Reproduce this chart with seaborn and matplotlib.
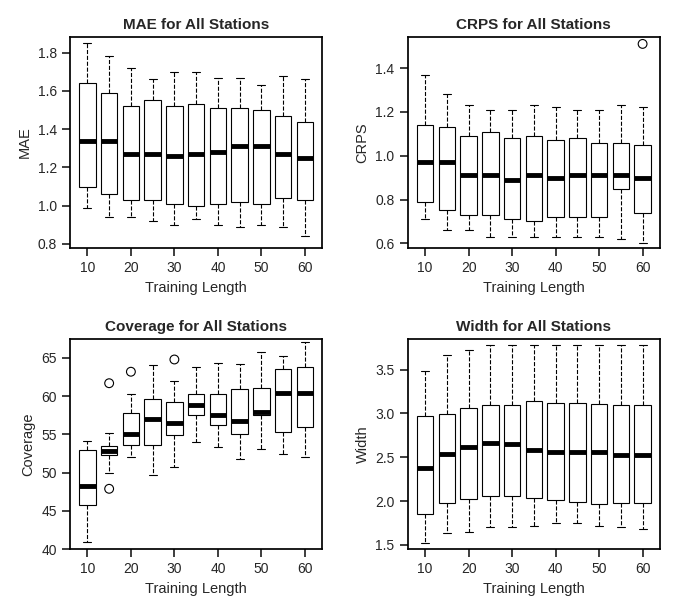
import pandas as pd
import numpy as np
import matplotlib.pyplot as plt
import seaborn as sns

sns.set_theme(style="ticks")
plt.rcParams['font.family'] = ['Liberation Sans', 'DejaVu Sans']

TRAIN_LEN = [10, 15, 20, 25, 30, 35, 40, 45, 50, 55, 60]

# per box: lower whisker, q1, median, q3, upper whisker
mae_stats = [
    [0.99, 1.10, 1.34, 1.64, 1.85], [0.94, 1.06, 1.34, 1.59, 1.78],
    [0.94, 1.03, 1.27, 1.52, 1.72], [0.92, 1.03, 1.27, 1.55, 1.66],
    [0.90, 1.01, 1.26, 1.52, 1.70], [0.93, 1.00, 1.27, 1.53, 1.70],
    [0.90, 1.01, 1.28, 1.51, 1.67], [0.89, 1.02, 1.31, 1.51, 1.67],
    [0.90, 1.01, 1.31, 1.50, 1.63], [0.89, 1.04, 1.27, 1.47, 1.68],
    [0.84, 1.03, 1.25, 1.44, 1.66],
]
crps_stats = [
    [0.71, 0.79, 0.97, 1.14, 1.37], [0.66, 0.75, 0.97, 1.13, 1.28],
    [0.66, 0.73, 0.91, 1.09, 1.23], [0.63, 0.73, 0.91, 1.11, 1.21],
    [0.63, 0.71, 0.89, 1.08, 1.21], [0.63, 0.70, 0.91, 1.09, 1.23],
    [0.63, 0.72, 0.90, 1.07, 1.22], [0.63, 0.72, 0.91, 1.08, 1.21],
    [0.63, 0.72, 0.91, 1.06, 1.21], [0.62, 0.85, 0.91, 1.06, 1.23],
    [0.60, 0.74, 0.90, 1.05, 1.22],
]
coverage_stats = [
    [41.0, 45.8, 48.3, 53.0, 54.2], [50.0, 52.3, 52.8, 53.5, 55.2],
    [52.0, 53.6, 55.1, 57.8, 60.3], [49.7, 53.6, 57.0, 59.7, 64.1],
    [50.8, 54.9, 56.5, 59.2, 62.0], [54.0, 57.6, 58.9, 60.3, 63.8],
    [53.4, 56.3, 57.5, 60.3, 64.3], [51.8, 55.0, 56.7, 60.9, 64.2],
    [53.1, 57.5, 58.0, 61.1, 65.8], [52.5, 55.3, 60.4, 63.6, 65.2],
    [52.1, 56.0, 60.4, 63.8, 67.1],
]
width_stats = [
    [1.52, 1.85, 2.38, 2.97, 3.48], [1.64, 1.98, 2.54, 2.99, 3.67],
    [1.65, 2.02, 2.62, 3.06, 3.72], [1.70, 2.06, 2.66, 3.10, 3.78],
    [1.70, 2.06, 2.65, 3.10, 3.78], [1.72, 2.04, 2.58, 3.14, 3.78],
    [1.75, 2.01, 2.56, 3.12, 3.78], [1.75, 1.99, 2.56, 3.12, 3.78],
    [1.72, 1.97, 2.56, 3.11, 3.78], [1.70, 1.98, 2.53, 3.10, 3.78],
    [1.68, 1.98, 2.53, 3.10, 3.78],
]

crps_out_x = [60]
crps_out_y = [1.51]
coverage_out_x = [15, 15, 20, 30]
coverage_out_y = [61.7, 47.9, 63.2, 64.8]

panels = [
    ("MAE for All Stations", "MAE", mae_stats, [], [], [0.8, 1.0, 1.2, 1.4, 1.6, 1.8]),
    ("CRPS for All Stations", "CRPS", crps_stats, crps_out_x, crps_out_y, [0.6, 0.8, 1.0, 1.2, 1.4]),
    ("Coverage for All Stations", "Coverage", coverage_stats, coverage_out_x, coverage_out_y, [40, 45, 50, 55, 60, 65]),
    ("Width for All Stations", "Width", width_stats, [], [], [1.5, 2.0, 2.5, 3.0, 3.5]),
]

fig, axes = plt.subplots(2, 2, figsize=(6.78, 6.14), dpi=100)

for ax, (title, ylab, stats, ox, oy, yticks) in zip(axes.flat, panels):
    rows = [(t, v) for t, s in zip(TRAIN_LEN, stats) for v in s]
    df = pd.DataFrame(rows, columns=["len", "val"])
    sns.boxplot(data=df, x="len", y="val", native_scale=True, width=0.75,
                whis=(0, 100), color="white", linecolor="black", linewidth=0.8,
                fill=True, ax=ax,
                boxprops=dict(facecolor="white", edgecolor="black"),
                whiskerprops=dict(linestyle="--", color="black"),
                capprops=dict(color="black"),
                medianprops=dict(color="black", linewidth=3.5, solid_capstyle="butt"))
    if ox:
        sns.scatterplot(x=ox, y=oy, ax=ax, marker="o", s=40, facecolor="none",
                        edgecolor="black", linewidth=0.8, zorder=5)
    ax.set_title(title, fontsize=11, fontweight="bold")
    ax.set_xlabel("Training Length", fontsize=10.5)
    ax.set_ylabel(ylab, fontsize=10.5)
    ax.set_xticks([10, 20, 30, 40, 50, 60])
    ax.set_xlim(6, 64)
    ax.set_yticks(yticks)
    ax.tick_params(labelsize=10)
    for sp in ax.spines.values():
        sp.set_visible(True)
        sp.set_color("black")

axes[0, 0].set_ylim(0.78, 1.88)
axes[0, 1].set_ylim(0.58, 1.54)
axes[1, 0].set_ylim(40, 67.5)
axes[1, 1].set_ylim(1.45, 3.85)

plt.tight_layout(h_pad=1.5, w_pad=2)
plt.savefig("out.png", dpi=100)
